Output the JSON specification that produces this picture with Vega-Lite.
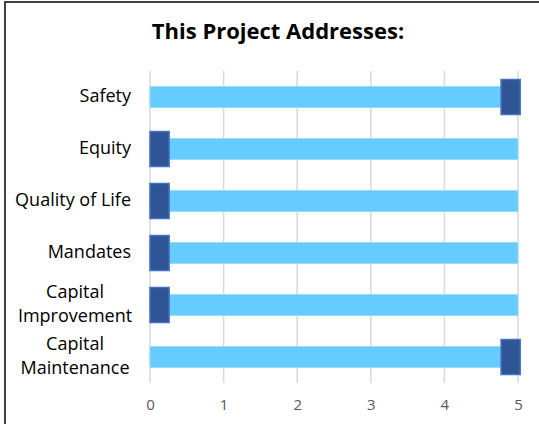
{
  "$schema": "https://vega.github.io/schema/vega-lite/v6.json",
  "width": 540,
  "height": 430,
  "padding": {"left": 5, "top": 2, "right": 0, "bottom": 0},
  "background": "white",
  "config": {
    "view": {"stroke": "#404040", "strokeWidth": 2},
    "font": "Open Sans"
  },
  "title": {
    "text": "This Project Addresses:",
    "orient": "top",
    "anchor": "middle",
    "offset": -42,
    "dx": 3,
    "font": "Open Sans",
    "fontSize": 22,
    "fontWeight": "bold",
    "color": "#000000"
  },
  "datasets": {
    "rows": [
      {"cat": "Safety", "label": "Safety", "bar": 5, "m0": 4.77, "m1": 5.03},
      {"cat": "Equity", "label": "Equity", "bar": 5, "m0": 0, "m1": 0.26},
      {"cat": "Quality of Life", "label": "Quality of Life", "bar": 5, "m0": 0, "m1": 0.26},
      {"cat": "Mandates", "label": "Mandates", "bar": 5, "m0": 0, "m1": 0.26},
      {"cat": "Capital Improvement", "label": "Capital\nImprovement", "bar": 5, "m0": 0, "m1": 0.26},
      {"cat": "Capital Maintenance", "label": "Capital\nMaintenance", "bar": 5, "m0": 4.77, "m1": 5.03}
    ],
    "grid": [{"g": 0}, {"g": 1}, {"g": 2}, {"g": 3}, {"g": 4}, {"g": 5}]
  },
  "data": {"name": "rows"},
  "encoding": {
    "y": {
      "field": "cat",
      "type": "nominal",
      "sort": null,
      "axis": null,
      "scale": {
        "domain": ["Safety", "Equity", "Quality of Life", "Mandates", "Capital Improvement", "Capital Maintenance"],
        "range": [69, 381],
        "paddingInner": 0,
        "paddingOuter": 0
      }
    }
  },
  "layer": [
    {
      "data": {"name": "grid"},
      "mark": {"type": "rule", "color": "#D9D9D9", "strokeWidth": 1.5},
      "encoding": {
        "x": {
          "field": "g",
          "type": "quantitative",
          "scale": {"domain": [0, 5], "range": [145, 513], "nice": false, "zero": false},
          "axis": {
            "values": [0, 1, 2, 3, 4, 5],
            "format": "d",
            "orient": "bottom",
            "offset": -35,
            "domain": false,
            "ticks": false,
            "tickSize": 0,
            "grid": false,
            "labelFlush": false,
            "labelPadding": 0,
            "labelFont": "Open Sans",
            "labelFontSize": 15,
            "labelColor": "#595959",
            "title": null
          }
        },
        "y": {"datum": "Safety", "type": "nominal", "bandPosition": 0},
        "y2": {"datum": "Capital Maintenance", "bandPosition": 1}
      }
    },
    {
      "mark": {"type": "bar", "height": 21, "color": "#66CCFF", "stroke": "#9AD9FF", "strokeWidth": 1},
      "encoding": {
        "x": {"field": "bar", "type": "quantitative"}
      }
    },
    {
      "mark": {"type": "bar", "height": 35, "color": "#2F5597", "stroke": "#4472C4", "strokeWidth": 1.5},
      "encoding": {
        "x": {"field": "m0", "type": "quantitative"},
        "x2": {"field": "m1"}
      }
    },
    {
      "transform": [{"filter": "indexof(datum.label, '\\n') < 0"}],
      "mark": {"type": "text", "align": "right", "baseline": "middle", "font": "Open Sans", "fontSize": 18, "color": "#000000"},
      "encoding": {
        "x": {"datum": -0.258, "type": "quantitative"},
        "text": {"field": "label", "type": "nominal"}
      }
    },
    {
      "transform": [{"filter": "indexof(datum.label, '\\n') >= 0"}],
      "mark": {"type": "text", "align": "center", "baseline": "middle", "dy": -12, "lineBreak": "\n", "lineHeight": 24, "font": "Open Sans", "fontSize": 18, "color": "#000000"},
      "encoding": {
        "x": {"datum": -1.019, "type": "quantitative"},
        "text": {"field": "label", "type": "nominal"}
      }
    }
  ]
}
